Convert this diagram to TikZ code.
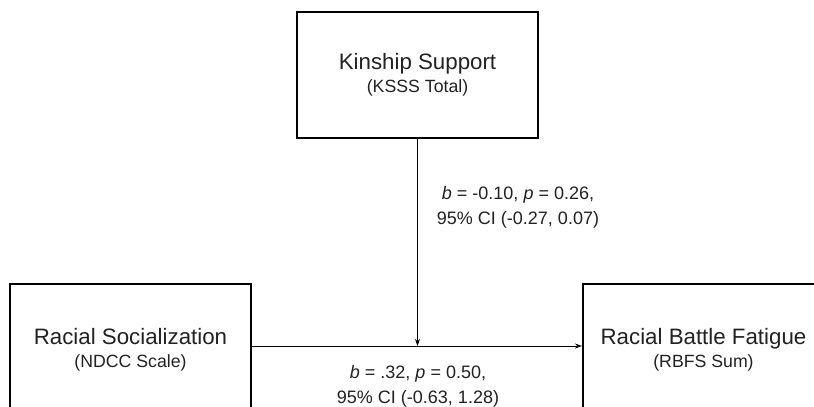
\documentclass[tikz,border=0pt]{standalone}
\usepackage{fontspec}
\setmainfont{Liberation Sans}
\usetikzlibrary{arrows.meta}
\definecolor{txt}{HTML}{222222}
\tikzset{
  varbox/.style={draw=black, line width=2pt, minimum width=241pt, minimum height=126pt, inner sep=0pt, align=center, text=txt, font=\fontsize{22.3}{23}\selectfont},
  conn/.style={draw=black, line width=1pt, -{Stealth[length=7pt,width=5pt]}},
  stat/.style={align=center, text=txt, font=\fontsize{18}{25}\selectfont, inner sep=0pt},
}
\newcommand{\vtitle}[2]{#1\\{\fontsize{17.7}{23}\selectfont #2}}
\begin{document}
\begin{tikzpicture}[x=1pt,y=-1pt]
\path[use as bounding box] (0,0) rectangle (814,407);
\clip (0,0) rectangle (814,407);
\fill[white] (0,0) rectangle (814,407);
\node[varbox] (ks) at (417.5,74.5) {\vtitle{Kinship Support}{(KSSS Total)}};
\node[varbox, minimum height=132pt] (rs) at (130.5,350) {\vtitle{Racial Socialization}{(NDCC Scale)}};
\node[varbox, minimum height=132pt] (rbf) at (703.5,350) {\vtitle{Racial Battle Fatigue}{(RBFS Sum)}};
\coordinate (mid) at (ks.south |- 0,346);
\draw[conn] ([yshift=4pt]rs.east) -- ([yshift=4pt]rbf.west);
\draw[conn] (ks.south) -- (mid);
\node[stat] (l1) at (518,207) {\textit{b} = -0.10, \textit{p} = 0.26,\\95\% CI (-0.27, 0.07)};
\node[stat] (l2) at (418,386) {\textit{b} = .32, \textit{p} = 0.50,\\95\% CI (-0.63, 1.28)};
\end{tikzpicture}
\end{document}
